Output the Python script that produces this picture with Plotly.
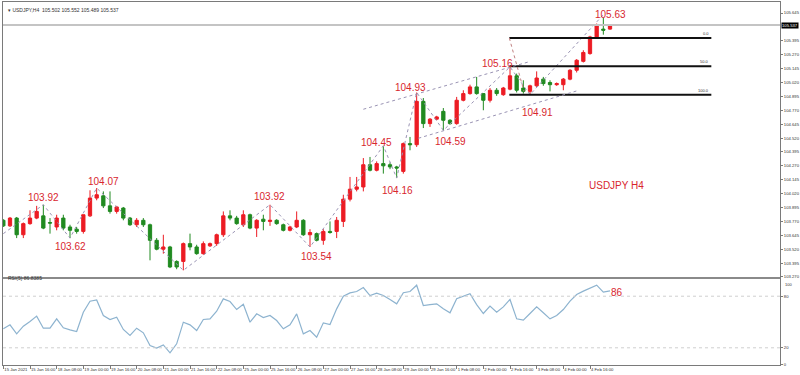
import plotly.graph_objects as go

# ---------------- data (USDJPY H4, bar index 0 = 15 Jan 2021 00:00) ----------------
opens = [103.78, 103.73, 103.80, 103.65, 103.75, 103.80, 103.82, 103.76, 103.72, 103.80,
         103.72, 103.70, 103.68, 103.82, 103.98, 104.00, 103.91, 103.86, 103.89, 103.80,
         103.74, 103.78, 103.74, 103.60, 103.52, 103.54, 103.41, 103.41, 103.57, 103.54,
         103.48, 103.55, 103.57, 103.65, 103.82, 103.80, 103.74, 103.83, 103.71, 103.79,
         103.77, 103.78, 103.74, 103.69, 103.72, 103.78, 103.65, 103.66, 103.60, 103.68,
         103.68, 103.77, 103.97, 104.06, 104.08, 104.28, 104.23, 104.29, 104.28, 104.26,
         104.22, 104.47, 104.46, 104.85, 104.65, 104.69, 104.76, 104.68, 104.65, 104.86,
         104.92, 104.98, 104.92, 104.86, 104.95, 104.91, 104.96, 105.08, 104.97, 104.94,
         104.99, 105.05, 105.02, 105.00, 105.00, 105.05, 105.13, 105.21, 105.28, 105.43,
         105.50, 105.50]
highs = [103.79, 103.81, 103.81, 103.76, 103.87, 103.91, 103.92, 103.80, 103.83, 103.83,
         103.74, 103.72, 103.83, 104.05, 104.07, 104.04, 104.04, 103.91, 103.90, 103.81,
         103.80, 103.80, 103.75, 103.62, 103.65, 103.55, 103.42, 103.58, 103.66, 103.56,
         103.59, 103.58, 103.66, 103.86, 103.87, 103.82, 103.87, 103.84, 103.79, 103.83,
         103.92, 103.79, 103.75, 103.73, 103.86, 103.79, 103.70, 103.67, 103.70, 103.77,
         103.81, 104.01, 104.17, 104.17, 104.34, 104.35, 104.31, 104.45, 104.30, 104.27,
         104.48, 104.53, 104.93, 104.88, 104.70, 104.72, 104.79, 104.69, 104.89, 104.95,
         105.00, 105.07, 104.92, 104.97, 104.97, 104.98, 105.16, 105.10, 105.04, 105.00,
         105.12, 105.07, 105.04, 105.02, 105.06, 105.14, 105.23, 105.31, 105.44, 105.55,
         105.60, 105.535]
lows = [103.72, 103.72, 103.62, 103.62, 103.74, 103.79, 103.70, 103.66, 103.69, 103.69,
        103.62, 103.66, 103.66, 103.81, 103.96, 103.89, 103.84, 103.84, 103.78, 103.73,
        103.72, 103.72, 103.42, 103.51, 103.48, 103.35, 103.34, 103.33, 103.51, 103.47,
        103.47, 103.54, 103.55, 103.63, 103.78, 103.74, 103.72, 103.70, 103.63, 103.69,
        103.73, 103.74, 103.68, 103.68, 103.71, 103.64, 103.54, 103.59, 103.56, 103.66,
        103.62, 103.72, 103.95, 104.04, 104.04, 104.22, 104.22, 104.20, 104.24, 104.16,
        104.20, 104.41, 104.44, 104.61, 104.62, 104.68, 104.59, 104.64, 104.64, 104.85,
        104.91, 104.91, 104.77, 104.84, 104.90, 104.90, 104.95, 104.93, 104.92, 104.91,
        104.98, 104.99, 104.94, 104.99, 104.95, 105.04, 105.11, 105.20, 105.27, 105.42,
        105.45, 105.495]
closes = [103.73, 103.80, 103.65, 103.75, 103.80, 103.86, 103.71, 103.755, 103.80, 103.71,
          103.69, 103.68, 103.83, 103.98, 104.01, 103.91, 103.86, 103.90, 103.80, 103.74,
          103.78, 103.74, 103.60, 103.52, 103.54, 103.36, 103.36, 103.57, 103.54, 103.48,
          103.57, 103.57, 103.65, 103.82, 103.80, 103.75, 103.83, 103.71, 103.78, 103.77,
          103.78, 103.75, 103.69, 103.72, 103.78, 103.65, 103.67, 103.60, 103.68, 103.67,
          103.78, 103.97, 104.06, 104.08, 104.28, 104.23, 104.29, 104.27, 104.26, 104.25,
          104.47, 104.46, 104.85, 104.65, 104.69, 104.71, 104.68, 104.65, 104.86, 104.92,
          104.98, 104.92, 104.86, 104.95, 104.92, 104.97, 105.08, 104.95, 104.94, 104.99,
          105.06, 105.01, 105.00, 105.01, 105.05, 105.13, 105.22, 105.29, 105.43, 105.53,
          105.49, 105.53]
rsi = [42.1, 46.7, 36.2, 45.2, 50.6, 56.8, 42.8, 42.8, 53.7, 43.2,
       40.9, 39.0, 61.4, 74.2, 75.7, 57.6, 52.9, 55.6, 41.3, 34.3,
       42.8, 37.4, 22.7, 19.6, 23.4, 14.2, 24.6, 49.8, 46.7, 40.1,
       52.9, 53.7, 62.5, 76.9, 73.8, 64.5, 70.7, 49.8, 59.5, 55.2,
       57.6, 51.7, 42.1, 46.7, 59.5, 36.2, 40.1, 32.4, 49.0, 47.1,
       65.3, 80.0, 83.9, 85.5, 90.1, 80.8, 83.5, 80.8, 76.2, 71.1,
       84.0, 85.5, 92.8, 69.2, 70.3, 71.1, 65.3, 60.7, 77.0, 80.0,
       82.8, 70.3, 59.9, 68.4, 61.4, 67.6, 76.2, 53.7, 52.1, 59.9,
       67.6, 60.7, 53.7, 57.6, 64.5, 74.2, 82.0, 85.9, 89.7, 92.8,
       84.7, 86.2]
bars = list(range(len(opens)))

time_labels = ["15 Jan 2021", "15 Jan 16:00", "18 Jan 08:00", "19 Jan 00:00", "19 Jan 16:00",
               "20 Jan 08:00", "21 Jan 00:00", "21 Jan 16:00", "22 Jan 08:00", "25 Jan 00:00",
               "25 Jan 16:00", "26 Jan 08:00", "27 Jan 00:00", "27 Jan 16:00", "28 Jan 08:00",
               "29 Jan 00:00", "29 Jan 16:00", "1 Feb 08:00", "2 Feb 00:00", "2 Feb 16:00",
               "3 Feb 08:00", "4 Feb 00:00", "4 Feb 16:00"]
time_tick_bars = [0, 4, 8, 12, 16, 20, 24, 28, 32, 36, 40, 44, 48, 52, 56, 60, 64, 68, 72, 76, 80, 84, 88]

price_ticks = [103.270, 103.395, 103.520, 103.645, 103.770, 103.895, 104.020, 104.145, 104.270,
               104.395, 104.520, 104.645, 104.770, 104.895, 105.020, 105.145, 105.270, 105.395, 105.645]
rsi_ticks = [0, 20, 80]
rsi_top = 100

# zigzag swing points
zz_bars = [0, 6, 10, 14, 27, 40, 46, 57, 59, 62, 66, 76, 79, 90]
zz_prices = [103.66, 103.92, 103.62, 104.07, 103.33, 103.92, 103.54, 104.45, 104.16, 104.93,
             104.59, 105.16, 104.91, 105.63]

swing_texts = ["103.92", "103.62", "104.07", "103.92", "103.54", "104.45", "104.16",
               "104.93", "104.59", "105.16", "104.91", "105.63"]
swing_text_bars = [6.0, 10.05, 15.0, 39.9, 46.95, 55.95, 59.1, 61.05, 67.05, 74.1, 80.1, 91.05]
swing_text_prices = [103.981, 103.540, 104.125, 103.990, 103.450, 104.476, 104.044,
                     104.979, 104.485, 105.195, 104.754, 105.636]

fib_levels = [105.42, 105.165, 104.91]
fib_names = ["0.0", "50.0", "100.0"]
bid_price = 105.537
rsi_last = 86

RED = "#ec1c24"
GREEN = "#208a20"
LABEL = "#d8262e"
DOT = "#9a94b4"
FONT = "Liberation Sans, Arial, sans-serif"
X_RANGE = [-0.05, 116.5]

fig = go.Figure()

fig.add_trace(go.Candlestick(
    x=bars, open=opens, high=highs, low=lows, close=closes,
    increasing=dict(line=dict(color=RED, width=1), fillcolor=RED),
    decreasing=dict(line=dict(color=GREEN, width=1), fillcolor=GREEN),
    whiskerwidth=0, showlegend=False, hoverinfo="skip", xaxis="x", yaxis="y"))

fig.add_trace(go.Scatter(
    x=zz_bars, y=zz_prices, mode="lines", line=dict(color=DOT, width=1, dash="dot"),
    showlegend=False, hoverinfo="skip", xaxis="x", yaxis="y"))

fig.add_trace(go.Scatter(
    x=bars, y=rsi, mode="lines", line=dict(color="#8db3cf", width=1.2),
    showlegend=False, hoverinfo="skip", xaxis="x2", yaxis="y2"))

shapes = []
shapes.append(dict(type="line", xref="x domain", yref="y", x0=0, x1=1, y0=bid_price, y1=bid_price,
                   line=dict(color="#c4c4c4", width=2)))
for lv in fib_levels:
    shapes.append(dict(type="line", xref="x", yref="y", x0=75.9, x1=106.2, y0=lv, y1=lv,
                       line=dict(color="#111111", width=2)))
shapes.append(dict(type="line", xref="x", yref="y", x0=75.9, x1=78.1, y0=105.42, y1=104.94,
                   line=dict(color="#c08080", width=1, dash="dot")))
shapes.append(dict(type="line", xref="x", yref="y", x0=54.0, x1=78.9, y0=104.779, y1=105.207,
                   line=dict(color=DOT, width=1, dash="dot")))
shapes.append(dict(type="line", xref="x", yref="y", x0=62.25, x1=85.95, y0=104.518, y1=104.943,
                   line=dict(color=DOT, width=1, dash="dot")))
for lv in (80, 20):
    shapes.append(dict(type="line", xref="x2 domain", yref="y2", x0=0, x1=1, y0=lv, y1=lv,
                       line=dict(color="#cfcfcf", width=1, dash="dot")))
shapes.append(dict(type="line", xref="paper", yref="paper", x0=0, x1=1, y0=0.2397, y1=0.2397,
                   line=dict(color="#8a8a8a", width=2)))

annotations = []
for t, bx, py in zip(swing_texts, swing_text_bars, swing_text_prices):
    annotations.append(dict(x=bx, y=py, xref="x", yref="y", text=t, showarrow=False,
                            font=dict(family=FONT, size=10, color=LABEL)))
annotations.append(dict(x=92.0, y=104.089, xref="x", yref="y", text="USDJPY H4", showarrow=False,
                        font=dict(family=FONT, size=10, color=LABEL)))
annotations.append(dict(x=92.0, y=84.3, xref="x2", yref="y2", text=str(rsi_last), showarrow=False,
                        font=dict(family=FONT, size=10, color=LABEL)))
for lv, nm in zip(fib_levels, fib_names):
    annotations.append(dict(x=106.2, y=lv, xref="x", yref="y", text=nm, showarrow=False,
                            xanchor="right", yanchor="bottom",
                            font=dict(family=FONT, size=4, color="#333333")))
annotations.append(dict(x=1, y=bid_price, xref="paper", yref="y", text=f"{bid_price:.3f}",
                        showarrow=False, xanchor="left", xshift=1, bgcolor="#000000",
                        font=dict(family=FONT, size=4.2, color="#ffffff"), borderpad=0))
annotations.append(dict(x=1, y=rsi_top, xref="paper", yref="y2", text=str(rsi_top),
                        showarrow=False, xanchor="left", yanchor="top", xshift=3, yshift=-1,
                        font=dict(family=FONT, size=4, color="#333333")))
annotations.append(dict(x=0.004, y=0.991, xref="paper", yref="paper", xanchor="left",
                        text="▾ USDJPY,H4  105.502 105.552 105.489 105.537", showarrow=False,
                        font=dict(family=FONT, size=5, color="#333333")))
annotations.append(dict(x=0.004, y=0.226, xref="paper", yref="paper", xanchor="left",
                        text="RSI(5) 86.8385", showarrow=False,
                        font=dict(family=FONT, size=5, color="#333333")))

axis_line = dict(showline=True, linecolor="#7a7a7a", linewidth=1, mirror=True,
                 showgrid=False, zeroline=False)

fig.update_layout(
    width=800, height=375,
    margin=dict(l=3, r=20, t=2, b=10, autoexpand=False),
    paper_bgcolor="white", plot_bgcolor="white",
    showlegend=False,
    font=dict(family=FONT, size=5, color="#333333"),
    xaxis=dict(domain=[0, 1], anchor="y", range=X_RANGE, showticklabels=False,
               rangeslider=dict(visible=False), ticks="", **axis_line),
    yaxis=dict(domain=[0.2397, 1], anchor="x", range=[103.261, 105.744], side="right",
               tickvals=price_ticks, ticktext=[f"{v:.3f}" for v in price_ticks],
               ticks="outside", ticklen=2, tickcolor="#7a7a7a",
               tickfont=dict(size=4.2, color="#333333"), **axis_line),
    xaxis2=dict(domain=[0, 1], anchor="y2", matches="x", range=X_RANGE,
                tickvals=time_tick_bars, ticktext=time_labels, tickangle=0,
                ticks="outside", ticklen=3, tickcolor="#7a7a7a",
                ticklabelposition="outside right",
                tickfont=dict(size=4.2, color="#333333"), **axis_line),
    yaxis2=dict(domain=[0, 0.2369], anchor="x2", range=[0, 100], side="right",
                tickvals=rsi_ticks, ticktext=[str(v) for v in rsi_ticks],
                ticks="outside", ticklen=2, tickcolor="#7a7a7a",
                tickfont=dict(size=4.2, color="#333333"), **axis_line),
    shapes=shapes, annotations=annotations,
)

fig.write_html("out.html", config={"displayModeBar": False},
               post_script="document.body.style.margin='0';document.body.style.overflow='hidden';")
